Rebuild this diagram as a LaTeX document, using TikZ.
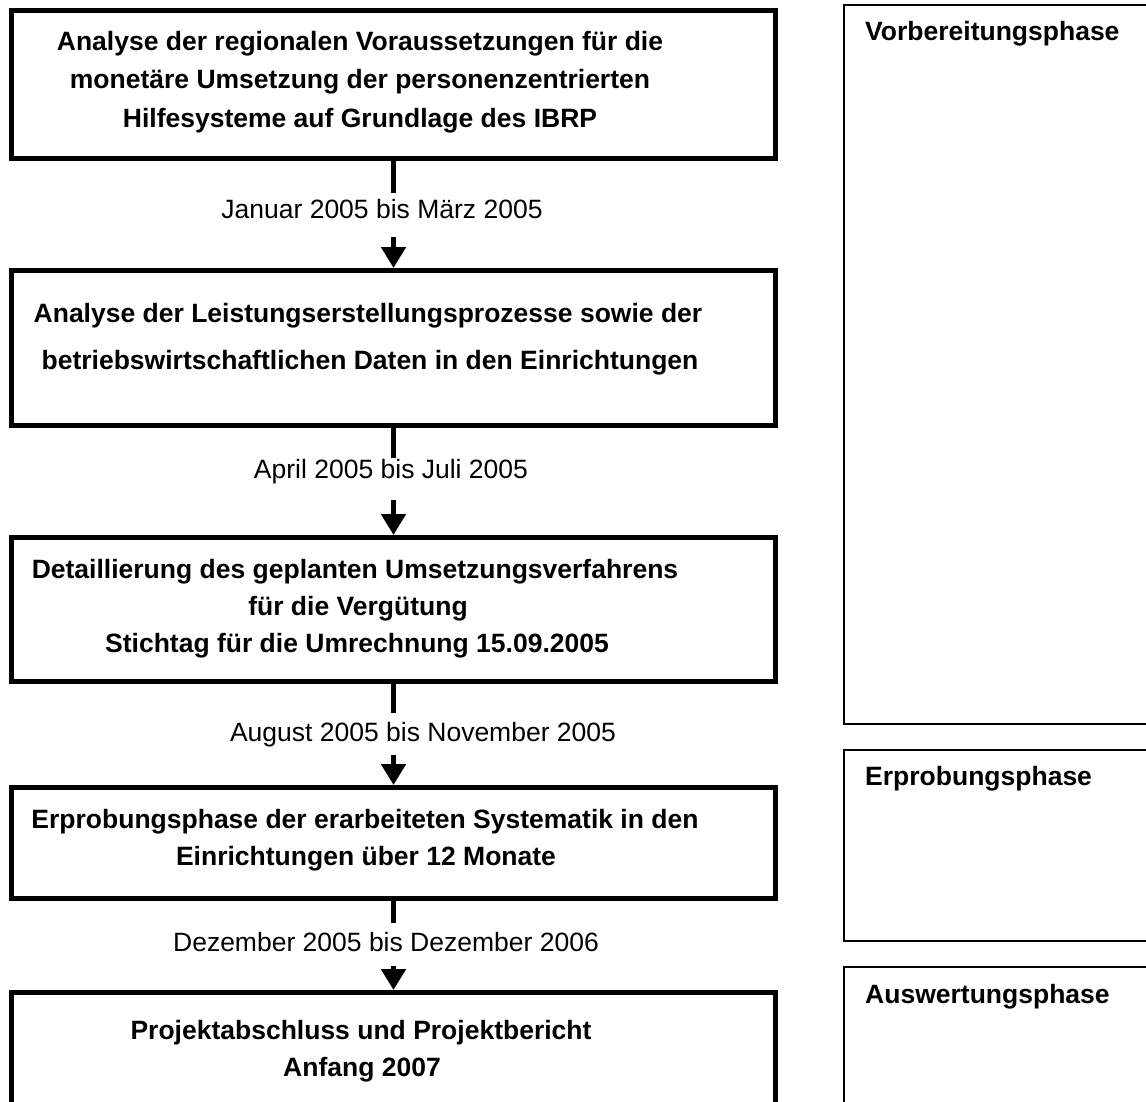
\documentclass[tikz,border=0pt]{standalone}
\usepackage{fontspec}
\setmainfont{Liberation Sans}
\usetikzlibrary{arrows.meta}
\begin{document}
\begin{tikzpicture}[x=1pt,y=-1pt,
  flowbox/.style={draw, line width=5pt, rectangle, inner sep=0pt},
  phasebox/.style={draw, line width=2pt, rectangle, inner sep=0pt},
  boxline/.style={font=\fontsize{26.5}{32}\selectfont\bfseries, inner sep=0pt, anchor=base},
  phaselabel/.style={font=\fontsize{26.5}{32}\selectfont\bfseries, inner sep=0pt, anchor=base west},
  datelabel/.style={font=\fontsize{26.5}{32}\selectfont, inner sep=0pt, anchor=base},
  stub/.style={line width=5pt},
  arr/.style={line width=5pt, -{Triangle[length=21pt,width=24pt]}},
]
\useasboundingbox (0,0) rectangle (1146,1101);
\clip (0,0) rectangle (1146,1101);
\fill[white] (0,0) rectangle (1146,1101);

% flow boxes
\node[flowbox, minimum width=764pt, minimum height=148pt] (b1) at (393.5,84) {};
\node[flowbox, minimum width=764pt, minimum height=155pt] (b2) at (393.5,348) {};
\node[flowbox, minimum width=764pt, minimum height=143.5pt] (b3) at (393.5,609.25) {};
\node[flowbox, minimum width=764pt, minimum height=110.5pt] (b4) at (393.5,842.75) {};
\node[flowbox, minimum width=764pt, minimum height=127.5pt] (b5) at (393.5,1056.25) {};

% phase boxes
\node[phasebox, minimum width=316pt, minimum height=719pt] (p1) at (1002,364.5) {};
\node[phasebox, minimum width=316pt, minimum height=191pt] (p2) at (1002,845.5) {};
\node[phasebox, minimum width=316pt, minimum height=153pt] (p3) at (1002,1043.5) {};

% box texts
\node[boxline] (t11) at (360,50) {Analyse der regionalen Voraussetzungen für die};
\node[boxline] (t12) at (360,88) {monetäre Umsetzung der personenzentrierten};
\node[boxline] (t13) at (360,127) {Hilfesysteme auf Grundlage des IBRP};
\node[boxline] (t21) at (368,322) {Analyse der Leistungserstellungsprozesse sowie der};
\node[boxline] (t22) at (370,369) {betriebswirtschaftlichen Daten in den Einrichtungen};
\node[boxline] (t31) at (355,578) {Detaillierung des geplanten Umsetzungsverfahrens};
\node[boxline] (t32) at (358,615) {für die Vergütung};
\node[boxline] (t33) at (357,652) {Stichtag für die Umrechnung 15.09.2005};
\node[boxline] (t41) at (365,828) {Erprobungsphase der erarbeiteten Systematik in den};
\node[boxline] (t42) at (366,865) {Einrichtungen über 12 Monate};
\node[boxline] (t51) at (361,1039) {Projektabschluss und Projektbericht};
\node[boxline] (t52) at (362,1076) {Anfang 2007};

% phase labels
\node[phaselabel] (l1) at (865,40) {Vorbereitungsphase};
\node[phaselabel] (l2) at (865,785) {Erprobungsphase};
\node[phaselabel] (l3) at (865,1003) {Auswertungsphase};

% connectors
\coordinate (s1) at (393.5,193);
\coordinate (a1) at (393.5,237);
\coordinate (s2) at (393.5,458);
\coordinate (a2) at (393.5,500);
\coordinate (s3) at (393.5,713);
\coordinate (a3) at (393.5,755);
\coordinate (s4) at (393.5,923);
\coordinate (a4) at (393.5,966);

\draw[stub] (b1.south) -- (s1);
\draw[arr] (a1) -- (b2.north);
\draw[stub] (b2.south) -- (s2);
\draw[arr] (a2) -- (b3.north);
\draw[stub] (b3.south) -- (s3);
\draw[arr] (a3) -- (b4.north);
\draw[stub] (b4.south) -- (s4);
\draw[arr] (a4) -- (b5.north);

% date labels
\node[datelabel] (d1) at (382,218) {Januar 2005 bis März 2005};
\node[datelabel] (d2) at (391,478) {April 2005 bis Juli 2005};
\node[datelabel] (d3) at (423,741) {August 2005 bis November 2005};
\node[datelabel] (d4) at (386,951) {Dezember 2005 bis Dezember 2006};
\end{tikzpicture}
\end{document}
